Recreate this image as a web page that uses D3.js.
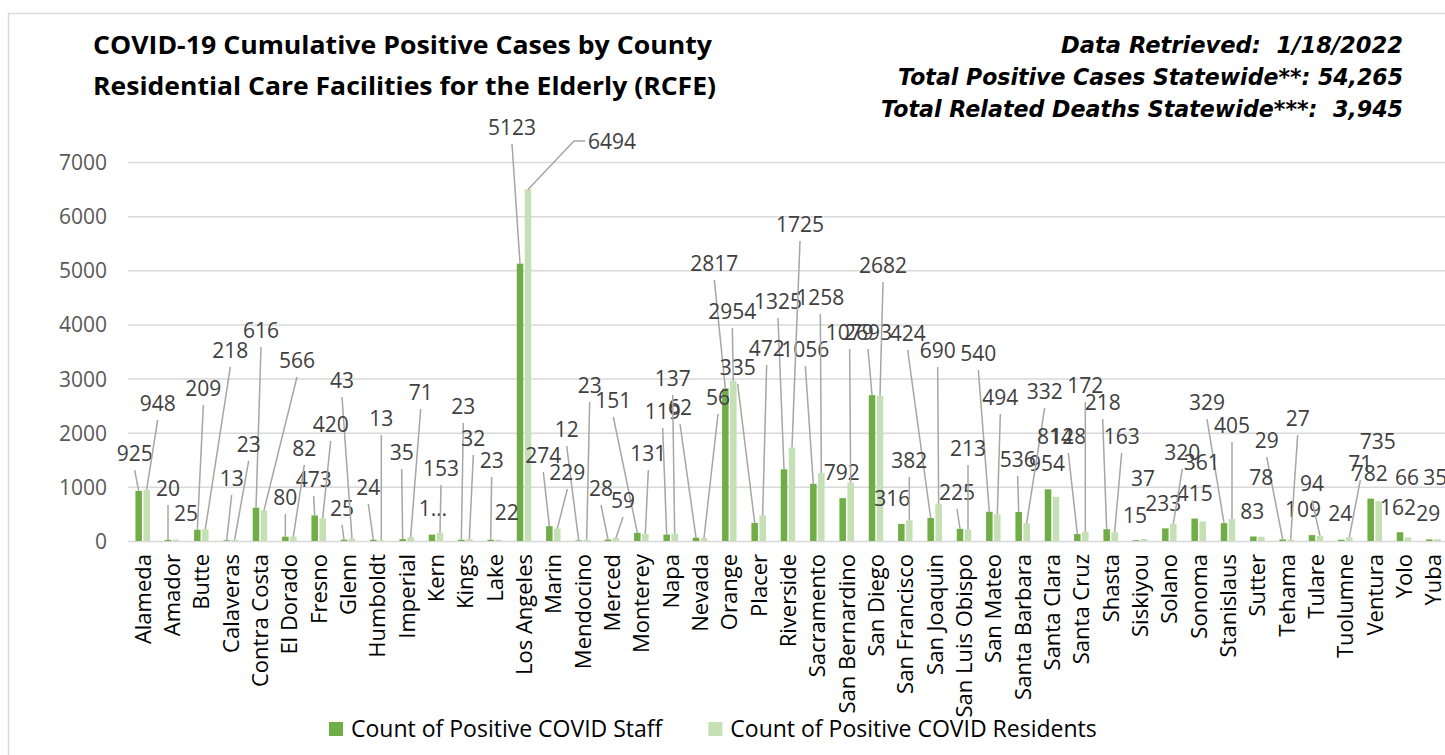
<!DOCTYPE html>
<html>
<head>
<meta charset="utf-8">
<script src="https://cdn.jsdelivr.net/npm/d3@7"></script>
<style>
  body { margin: 0; background: #fff; }
  text { font-family: "Open Sans", sans-serif; }
  .title { font-weight: bold; fill: #000; }
  .note { font-family: "DejaVu Sans", sans-serif; font-weight: bold; font-style: italic; fill: #000; white-space: pre; }
</style>
</head>
<body>
<svg id="chart"></svg>
<script>
// chart size matches the window
const width = 1445;
const height = 755;

// counties along the x axis
const counties = [
  "Alameda", "Amador", "Butte", "Calaveras", "Contra Costa", "El Dorado", "Fresno",
  "Glenn", "Humboldt", "Imperial", "Kern", "Kings", "Lake", "Los Angeles", "Marin",
  "Mendocino", "Merced", "Monterey", "Napa", "Nevada", "Orange", "Placer", "Riverside",
  "Sacramento", "San Bernardino", "San Diego", "San Francisco", "San Joaquin",
  "San Luis Obispo", "San Mateo", "Santa Barbara", "Santa Clara", "Santa Cruz",
  "Shasta", "Siskiyou", "Solano", "Sonoma", "Stanislaus", "Sutter", "Tehama",
  "Tulare", "Tuolumne", "Ventura", "Yolo", "Yuba"
];

const staffCases = [
  925, 20, 209, 13, 616, 80, 473, 25, 24, 35, 118, 23, 23, 5123, 274,
  12, 28, 151, 119, 62, 2817, 335, 1325, 1056, 792, 2693, 316, 424,
  225, 540, 536, 954, 128, 218, 15, 233, 415, 329, 83, 29,
  109, 24, 782, 162, 29
];

const residentCases = [
  948, 25, 218, 23, 566, 82, 420, 43, 13, 71, 153, 32, 22, 6494, 229,
  23, 59, 131, 137, 56, 2954, 472, 1725, 1258, 1079, 2682, 382, 690,
  213, 494, 332, 814, 172, 163, 37, 320, 361, 405, 78, 27,
  94, 71, 735, 66, 35
];

// excel cut this label short in the original
const clippedStaff = ["Kern"];

const yTicks = [0, 1000, 2000, 3000, 4000, 5000, 6000, 7000];

const seriesNames = ["Count of Positive COVID Staff", "Count of Positive COVID Residents"];

const headerLeft = [
  "COVID-19 Cumulative Positive Cases by County",
  "Residential Care Facilities for the Elderly (RCFE)"
];
const headerRight = [
  "Data Retrieved:  1/18/2022",
  "Total Positive Cases Statewide**: 54,265",
  "Total Related Deaths Statewide***:  3,945"
];

/*
 * label layout copied from the excel chart, which dragged most labels around:
 * [x shift from the county centre (px), label height (in case units), leader line]
 * leader line: 0 none, 1 straight, 2 elbow
 */
const staffLabelLayout = [
  [-8, 1625, 1], [-4, 979, 1], [2, 2826, 1], [1, 1164, 1], [1, 3897, 1],
  [-4, 813, 1], [-5, 1145, 1], [-6, 610, 1], [-9, 997, 1], [-5, 1644, 1],
  [-3, 610, 0], [-2, 2494, 1], [-3, 1496, 1], [-12, 7647, 1], [-10, 1588, 1],
  [-16, 2069, 1], [-11, 979, 1], [-28, 2604, 1], [-8, 2401, 1], [-20, 2475, 1],
  [-15, 5135, 1], [-21, 3214, 1], [-10, 4433, 1], [-12, 3546, 1], [-5, 1274, 0],
  [-8, 3860, 1], [-13, 794, 0], [-27, 3842, 1], [-7, 905, 1], [-15, 3472, 1],
  [-5, 1515, 1], [-5, 1441, 0], [-13, 1939, 1], [-8, 2567, 1], [-5, 480, 0],
  [-6, 702, 0], [-4, 887, 0], [-21, 2567, 1], [-5, 554, 0], [-20, 1866, 1],
  [-13, 591, 0], [-5, 517, 0], [-5, 1256, 0], [-6, 628, 0], [-5, 517, 0]
];

const residentLabelLayout = [
  [15, 2549, 1], [14, 517, 0], [29, 3528, 1], [18, 1792, 1], [37, 3343, 1],
  [15, 1718, 1], [12, 2161, 1], [-6, 2974, 1], [4, 2272, 1], [14, 2752, 1],
  [5, 1348, 1], [8, 1902, 1], [12, 536, 0], [88, 7388, 2], [14, 1274, 1],
  [7, 2881, 1], [11, 757, 1], [7, 1625, 1], [2, 3011, 1], [18, 2660, 1],
  [3, 4248, 1], [8, 3565, 1], [12, 5855, 1], [3, 4507, 1], [3, 3860, 1],
  [7, 5098, 1], [4, 1496, 1], [3, 3528, 1], [4, 1718, 1], [7, 2660, 1],
  [22, 2771, 1], [3, 1939, 0], [4, 2881, 1], [11, 1939, 1], [3, 1164, 0],
  [13, 1644, 1], [3, 1459, 0], [4, 2143, 1], [4, 1182, 0], [11, 2272, 1],
  [-4, 1071, 1], [15, 1441, 1], [3, 1847, 0], [3, 1182, 0], [2, 1182, 0]
];

const colors = {
  staff: "#70AD47",
  residents: "#C5E0B4",
  grid: "#D9D9D9",
  leader: "#A6A6A6",
  label: "#404040",
  tick: "#595959"
};

const margin = { top: 162, bottom: 214, left: 128, right: -3 };

const svg = d3.select("#chart")
  .attr("width", width)
  .attr("height", height);

const xScale = d3.scaleBand()
  .domain(counties)
  .range([margin.left, width - margin.right])
  .padding(0);

const yScale = d3.scaleLinear()
  .domain([0, 7000])
  .range([height - margin.bottom, margin.top]);

const bw = xScale.bandwidth();
const barWidth = bw * 0.222;
const barGap = bw * 0.05;

// centre of each series bar inside the band
function barCentre(county, which) {
  let c = xScale(county) + bw / 2;
  let off = barGap / 2 + barWidth / 2;
  return which == "staff" ? c - off : c + off;
}

function translate(x, y) {
  return "translate(" + String(x) + "," + String(y) + ")";
}

drawFrame();
drawGrid();
drawBars();
drawLabels("staff", staffCases, staffLabelLayout);
drawLabels("residents", residentCases, residentLabelLayout);
drawAxes();
drawHeader();
drawLegend();

function drawFrame() {
  svg.append("rect")
    .attr("x", 8.5)
    .attr("y", 13.5)
    .attr("width", width + 20)
    .attr("height", height + 20)
    .attr("fill", "none")
    .attr("stroke", colors.grid)
    .attr("stroke-width", 1.5);
}

function drawGrid() {
  let yGrid = d3.axisLeft(yScale)
    .tickValues(yTicks)
    .tickSize(-(width - margin.left + 20))
    .tickFormat("");

  let g = svg.append("g")
    .attr("class", "ygrid")
    .attr("transform", translate(margin.left, 0))
    .call(yGrid);

  g.select("path.domain").remove();
  g.selectAll("line")
    .attr("stroke", colors.grid)
    .attr("stroke-width", 1.5);
}

function drawBars() {
  let rows = counties.map((c, i) => ({ county: c, staff: staffCases[i], residents: residentCases[i] }));

  let groups = svg.append("g").attr("id", "bars");

  ["staff", "residents"].forEach(key => {
    groups.append("g")
      .selectAll("rect")
      .data(rows)
      .enter()
      .append("rect")
      .attr("x", d => barCentre(d.county, key) - barWidth / 2)
      .attr("y", d => yScale(d[key]))
      .attr("width", barWidth)
      .attr("height", d => yScale(0) - yScale(d[key]))
      .attr("fill", colors[key]);
  });
}

function drawLabels(key, values, layout) {
  let rows = counties.map((c, i) => ({
    county: c,
    value: values[i],
    dx: layout[i][0],
    at: layout[i][1],
    line: layout[i][2]
  }));

  let g = svg.append("g").attr("id", key + "-labels");

  let labels = g.selectAll("text")
    .data(rows)
    .enter()
    .append("text")
    .attr("x", d => xScale(d.county) + bw / 2 + d.dx)
    .attr("y", d => yScale(d.at))
    .attr("dy", "0.36em")
    .attr("text-anchor", "middle")
    .attr("font-size", 21)
    .attr("fill", colors.label)
    .text(d => (key == "staff" && clippedStaff.includes(d.county)) ? String(d.value)[0] + "\u2026" : d.value);

  // leader lines back to the top of the bar
  labels.each(function(d) {
    if (!d.line) return;
    let lx = xScale(d.county) + bw / 2 + d.dx;
    let ly = yScale(d.at);
    let bx = barCentre(d.county, key);
    let by = yScale(d.value);
    let pts;
    if (d.line == 2) {
      let left = lx - this.getComputedTextLength() / 2;
      pts = [[left - 3, ly], [left - 14, ly], [bx, by]];
    } else {
      pts = [[lx, ly + 17], [bx, by]];
    }
    g.insert("path", "text")
      .attr("d", d3.line()(pts))
      .attr("fill", "none")
      .attr("stroke", colors.leader)
      .attr("stroke-width", 1.5);
  });
}

function drawAxes() {
  let yAxis = d3.axisLeft(yScale)
    .tickValues(yTicks)
    .tickSize(0)
    .tickPadding(21)
    .tickFormat(d3.format("d"));

  let gy = svg.append("g")
    .attr("id", "y-axis")
    .attr("transform", translate(margin.left, 0))
    .call(yAxis);
  gy.select("path.domain").remove();
  gy.selectAll("text")
    .attr("font-family", "Open Sans")
    .attr("font-size", 21)
    .attr("fill", colors.tick)
    .attr("dy", "0.36em");

  // county names, rotated
  let xAxis = d3.axisBottom(xScale).tickSize(0).tickPadding(0);
  let gx = svg.append("g")
    .attr("id", "x-axis")
    .attr("transform", translate(0, yScale(0)))
    .call(xAxis);
  gx.select("path.domain").remove();
  gx.selectAll("text")
    .attr("font-family", "Open Sans")
    .attr("font-size", 22)
    .attr("fill", "#000")
    .attr("text-anchor", "end")
    .attr("transform", "rotate(-90)")
    .attr("x", -13)
    .attr("y", 0)
    .attr("dy", "0.36em");
}

function drawHeader() {
  let leftLengths = [619, 623];
  let leftBase = [54, 95];
  headerLeft.forEach((t, i) => {
    svg.append("text")
      .attr("class", "title")
      .attr("x", 93)
      .attr("y", leftBase[i])
      .attr("font-size", 25)
      .attr("textLength", leftLengths[i])
      .attr("lengthAdjust", "spacingAndGlyphs")
      .text(t);
  });

  let rightLengths = [342, 505, 522];
  let rightBase = [53, 85, 117];
  headerRight.forEach((t, i) => {
    svg.append("text")
      .attr("class", "note")
      .attr("x", 1403)
      .attr("y", rightBase[i])
      .attr("text-anchor", "end")
      .attr("font-size", 23)
      .attr("textLength", rightLengths[i])
      .attr("lengthAdjust", "spacingAndGlyphs")
      .text(t);
  });
}

function drawLegend() {
  let legend = svg.append("g").attr("id", "legend");
  let x = 329;
  let keys = ["staff", "residents"];
  keys.forEach((k, i) => {
    legend.append("rect")
      .attr("x", x)
      .attr("y", 722)
      .attr("width", 14)
      .attr("height", 14)
      .attr("fill", colors[k]);
    let t = legend.append("text")
      .attr("x", x + 22)
      .attr("y", 729)
      .attr("dy", "0.36em")
      .attr("font-size", 23)
      .attr("fill", "#000")
      .text(seriesNames[i]);
    x = x + 22 + t.node().getComputedTextLength() + 46;
  });
}
</script>
</body>
</html>
